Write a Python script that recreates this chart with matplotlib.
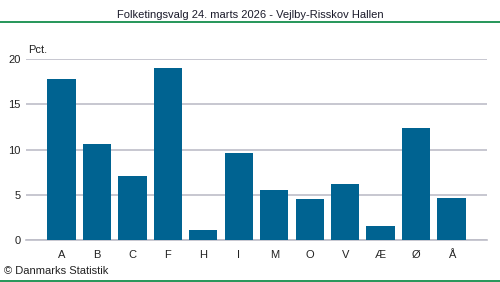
import matplotlib
matplotlib.use("Agg")
import matplotlib.pyplot as plt
from matplotlib.lines import Line2D

categories = ["A", "B", "C", "F", "H", "I", "M", "O", "V", "Æ", "Ø", "Å"]
values = [17.8, 10.6, 7.1, 19.0, 1.1, 9.6, 5.5, 4.5, 6.2, 1.55, 12.4, 4.6]
yticks = [0, 5, 10, 15, 20]
title = "Folketingsvalg 24. marts 2026 - Vejlby-Risskov Hallen"

plt.rcParams['font.family'] = ['Liberation Sans', 'DejaVu Sans']

W, H = 500, 282
fig = plt.figure(figsize=(W / 100, H / 100), dpi=100)
ax = fig.add_axes([26 / W, 1 - 240 / H, (487 - 26) / W, (240 - 59) / H])

x = list(range(len(categories)))
ax.bar(x, values, width=0.8, color="#006391", zorder=3)
ax.set_xlim(-1, 12)
ax.set_ylim(0, 20)
ax.set_yticks(yticks)
ax.set_yticklabels([str(t) for t in yticks])
ax.set_xticks(x)
ax.set_xticklabels(categories)
ax.yaxis.grid(True, color="#BEBEC8", linewidth=1.2, zorder=0)
ax.set_axisbelow(True)
for s in ["top", "right", "left"]:
    ax.spines[s].set_visible(False)
ax.spines["bottom"].set_color("#BEBEC8")
ax.spines["bottom"].set_linewidth(1.2)
ax.tick_params(axis="both", length=0, labelsize=8, colors="#222222")
ax.tick_params(axis="x", pad=7)
ax.tick_params(axis="y", pad=4)

fig.text(28 / W, 1 - 50 / H, "Pct.", fontsize=8, color="#222222", va="center", ha="left")
fig.text(250 / W, 1 - 15 / H, title, fontsize=8, color="#1a1a2a", va="center", ha="center")
fig.text(4 / W, 1 - 271 / H, "© Danmarks Statistik", fontsize=8, color="#222222", va="center", ha="left")

fig.add_artist(Line2D([0, 1], [1 - 22 / H, 1 - 22 / H], color="#00843D", linewidth=1.2, transform=fig.transFigure))
fig.add_artist(Line2D([0, 1], [1 - 281 / H, 1 - 281 / H], color="#00843D", linewidth=1.2, transform=fig.transFigure))

fig.savefig("out.png", dpi=100)
